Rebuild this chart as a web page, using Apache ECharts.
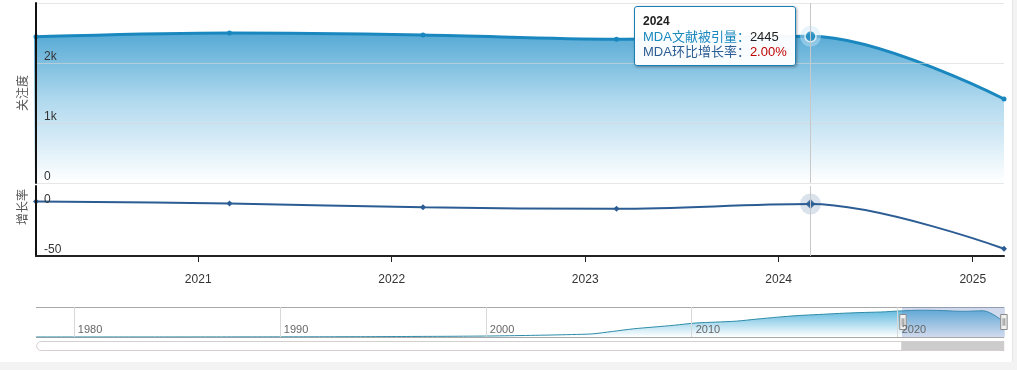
<!DOCTYPE html>
<html>
<head>
<meta charset="utf-8">
<script src="https://cdn.jsdelivr.net/npm/echarts@6/dist/echarts.min.js"></script>
<style>
  html, body { margin: 0; padding: 0; background: #f3f3f3; }
  #chart { width: 1012px; height: 362px; background: #ffffff; border-right: 1px solid #e6e6e6; }
</style>
</head>
<body>
<div id="chart"></div>
<script>
// ---- data ----
const years = [1978,1979,1980,1981,1982,1983,1984,1985,1986,1987,1988,1989,1990,1991,1992,1993,1994,1995,1996,1997,1998,1999,
               2000,2001,2002,2003,2004,2005,2006,2007,2008,2009,2010,2011,2012,2013,2014,2015,2016,2017,2018,2019,2020,2021,2022,2023,2024,2025];
const citations = [2,3,3,4,5,5,6,8,9,10,12,14,16,18,22,27,33,40,48,56,65,78,
                   92,120,150,185,230,290,520,760,930,1100,1300,1390,1480,1670,1850,2000,2100,2200,2280,2333,2438,2500,2467,2397,2445,1400];
const growthYears = [2020,2021,2022,2023,2024,2025];
const growthRates = [4.5,2.5,-1.3,-2.8,2.00,-42.7];
const viewStartYear = 2020;
const focusYear = 2024;
const seriesNames = ['MDA文献被引量', 'MDA环比增长率'];
const axisTitles = ['关注度', '增长率'];

// ---- helpers ----
const toTime = y => Date.UTC(y, 2, 1);
const yearFrac = y => (toTime(y) - Date.UTC(y, 0, 1)) / (Date.UTC(y + 1, 0, 1) - Date.UTC(y, 0, 1)) + y;
const FONT = '"Liberation Sans", Arial, "Noto Sans CJK SC", sans-serif';
const C_TOP = '#1a88bf';
const C_BOT = '#2b5c93';

const mainData = years.map((y, i) => [toTime(y), citations[i]]);
const growthData = growthYears.map((y, i) => [toTime(y), growthRates[i]]);
const navData = years.map((y, i) => [yearFrac(y), citations[i]]);
const fi = years.indexOf(focusYear);
const gi = growthYears.indexOf(focusYear);
const focusTop = [[toTime(focusYear), citations[fi]]];
const focusBot = [[toTime(focusYear), growthRates[gi]]];

const chart = echarts.init(document.getElementById('chart'), null, { renderer: 'canvas' });

const option = {
  animation: false,
  useUTC: true,
  textStyle: { fontFamily: FONT },
  axisPointer: { link: [{ xAxisIndex: [0, 1] }] },
  tooltip: {
    trigger: 'axis',
    triggerOn: 'none',
    alwaysShowContent: true,
    transitionDuration: 0,
    axisPointer: { type: 'line', lineStyle: { color: '#c8c8c8', width: 1, type: 'solid' } },
    backgroundColor: 'rgba(255,255,255,0.96)',
    borderColor: '#1a7db3',
    borderWidth: 1,
    borderRadius: 3,
    padding: [6, 8],
    extraCssText: 'box-shadow: 1px 1px 3px rgba(0,0,0,0.35); line-height:15px;',
    textStyle: { fontSize: 13, color: '#333', fontFamily: FONT },
    position: function (point, params, dom, rect, size) {
      return [point[0] - size.contentSize[0] - 15, 6];
    },
    formatter: function (params) {
      const yr = new Date(params[0].axisValue + 15 * 864e5).getUTCFullYear();
      const a = citations[years.indexOf(yr)];
      const g = growthRates[growthYears.indexOf(yr)];
      return '<b style="color:#222;font-size:12px">' + yr + '</b><br/>' +
        '<span style="color:' + C_TOP + '">' + seriesNames[0] + '：</span><span style="color:#222">' + a + '</span><br/>' +
        '<span style="color:' + C_BOT + '">' + seriesNames[1] + '：</span><span style="color:#c00000">' + g.toFixed(2) + '%</span>';
    }
  },
  grid: [
    { left: 36, right: 8, top: 3, height: 180 },
    { left: 36, right: 8, top: 186, height: 70 },
    { left: 36, right: 8, top: 307, height: 30 }
  ],
  xAxis: [
    { type: 'time', gridIndex: 0, show: false, splitLine: { show: false } },
    {
      type: 'time', gridIndex: 1, z: 10,
      minInterval: 365 * 864e5, maxInterval: 366 * 864e5,
      axisLine: { show: true, onZero: false, lineStyle: { color: '#222', width: 2 } },
      axisTick: { show: true, length: 6, lineStyle: { color: '#222' } },
      axisLabel: {
        color: '#333', fontSize: 12, margin: 18, fontFamily: FONT,
        formatter: v => String(new Date(v).getUTCFullYear())
      },
      splitLine: { show: false }
    },
    {
      type: 'value', gridIndex: 2, z: 10,
      min: yearFrac(years[0]), max: yearFrac(years[years.length - 1]),
      splitNumber: 5,
      axisLine: { show: false }, axisTick: { show: false },
      axisLabel: {
        inside: true, align: 'left', margin: 2, padding: [0, 0, 0, 4],
        color: '#666', fontSize: 11, fontFamily: FONT,
        showMinLabel: false, showMaxLabel: false,
        formatter: v => String(Math.round(v))
      },
      splitLine: { show: true, showMinLine: false, showMaxLine: false, lineStyle: { color: '#d8d8d8' } }
    }
  ],
  yAxis: [
    {
      type: 'value', gridIndex: 0, min: 0, max: 3000, interval: 1000, z: 10,
      name: axisTitles[0], nameLocation: 'middle', nameRotate: 90, nameGap: 8,
      nameTextStyle: { color: '#555', fontSize: 12, fontFamily: '"Noto Sans CJK SC", sans-serif' },
      axisLine: { show: true, lineStyle: { color: '#111', width: 2 } },
      axisTick: { show: false },
      axisLabel: {
        inside: true, margin: 8, verticalAlign: 'bottom', color: '#333', fontSize: 12,
        formatter: v => v === 0 ? '0' : (v >= 3000 ? '' : (v / 1000) + 'k')
      },
      splitLine: { show: true, lineStyle: { color: 'rgba(215,215,215,0.6)' } }
    },
    {
      type: 'value', gridIndex: 1, min: -50, max: 20, interval: 50, z: 10,
      name: axisTitles[1], nameLocation: 'middle', nameRotate: 90, nameGap: 8,
      nameTextStyle: { color: '#555', fontSize: 12, padding: [0, 0, 0, 28], fontFamily: '"Noto Sans CJK SC", sans-serif' },
      axisLine: { show: true, onZero: false, lineStyle: { color: '#111', width: 2 } },
      axisTick: { show: false },
      axisLabel: {
        inside: true, margin: 8, verticalAlign: 'bottom', color: '#333', fontSize: 12,
        formatter: v => (v === 0 || v === -50) ? String(v) : ''
      },
      splitLine: { show: false }
    },
    {
      type: 'value', gridIndex: 2, min: 0, max: 2800, interval: 2800,
      axisLine: { show: false }, axisTick: { show: false }, axisLabel: { show: false },
      splitLine: { show: true, lineStyle: { color: '#a8a8a8' } }
    }
  ],
  dataZoom: [
    {
      type: 'slider', xAxisIndex: [0, 1], filterMode: 'none',
      startValue: toTime(viewStartYear), endValue: toTime(years[years.length - 1]),
      left: 36, right: 8, top: 307, height: 30,
      showDataShadow: false, showDetail: false, brushSelect: false, moveHandleSize: 0,
      backgroundColor: 'rgba(0,0,0,0)',
      borderColor: 'rgba(0,0,0,0)',
      fillerColor: 'rgba(102,133,194,0.3)',
      handleIcon: 'path://M0,0 L6,0 L6,14 L0,14 Z M2.2,3.5 L2.2,10.5 M3.8,3.5 L3.8,10.5',
      handleSize: 15,
      handleStyle: { color: '#f2f2f2', borderColor: '#8a8a8a', borderWidth: 1 }
    },
    {
      type: 'slider', xAxisIndex: [0, 1], filterMode: 'none',
      startValue: toTime(viewStartYear), endValue: toTime(years[years.length - 1]),
      left: 36, right: 8, top: 341, height: 10,
      showDataShadow: false, showDetail: false, brushSelect: false, moveHandleSize: 0,
      backgroundColor: '#ffffff', borderColor: '#d6cfcf', borderRadius: 5,
      fillerColor: '#cccccc',
      handleSize: 0, handleStyle: { opacity: 0, borderWidth: 0 }
    }
  ],
  series: [
    {
      name: seriesNames[0], type: 'line', xAxisIndex: 0, yAxisIndex: 0,
      data: mainData, smooth: 0.35, symbol: 'circle', symbolSize: 5, showSymbol: true,
      lineStyle: { color: C_TOP, width: 3 },
      itemStyle: { color: C_TOP },
      areaStyle: {
        color: new echarts.graphic.LinearGradient(0, 0, 0, 1, [
          { offset: 0, color: '#0c84c2' },
          { offset: 0.45, color: '#8ec8e6' },
          { offset: 1, color: '#ffffff' }
        ])
      },
      emphasis: { disabled: true },
      z: 2
    },
    {
      name: seriesNames[1], type: 'line', xAxisIndex: 1, yAxisIndex: 1,
      data: growthData, smooth: 0.35, symbol: 'diamond', symbolSize: 6, showSymbol: true,
      lineStyle: { color: C_BOT, width: 2 },
      itemStyle: { color: C_BOT },
      emphasis: { disabled: true },
      z: 2
    },
    {
      type: 'scatter', xAxisIndex: 0, yAxisIndex: 0, data: focusTop, silent: true,
      symbol: 'circle', symbolSize: 21, itemStyle: { color: 'rgba(200,230,245,0.55)' }, z: 3,
      tooltip: { show: false }
    },
    {
      type: 'scatter', xAxisIndex: 0, yAxisIndex: 0, data: focusTop, silent: true,
      symbol: 'circle', symbolSize: 11, itemStyle: { color: C_TOP, borderColor: '#ffffff', borderWidth: 1.5 }, z: 4,
      tooltip: { show: false }
    },
    {
      type: 'scatter', xAxisIndex: 1, yAxisIndex: 1, data: focusBot, silent: true,
      symbol: 'circle', symbolSize: 21, itemStyle: { color: 'rgba(43,92,147,0.22)' }, z: 3,
      tooltip: { show: false }
    },
    {
      type: 'scatter', xAxisIndex: 1, yAxisIndex: 1, data: focusBot, silent: true,
      symbol: 'diamond', symbolSize: 10, itemStyle: { color: C_BOT }, z: 4,
      tooltip: { show: false }
    },
    {
      type: 'line', xAxisIndex: 2, yAxisIndex: 2, data: navData, silent: true,
      smooth: 0.3, showSymbol: false,
      lineStyle: { color: '#2d8ca8', width: 1 },
      areaStyle: {
        color: new echarts.graphic.LinearGradient(0, 0, 0, 1, [
          { offset: 0, color: '#1c9ad0' },
          { offset: 1, color: '#ffffff' }
        ])
      },
      tooltip: { show: false },
      z: 1
    }
  ]
};

chart.setOption(option);
const px = chart.convertToPixel({ xAxisIndex: 0, yAxisIndex: 0 }, focusTop[0]);
chart.dispatchAction({ type: 'showTip', x: px[0], y: px[1] });
</script>
</body>
</html>
